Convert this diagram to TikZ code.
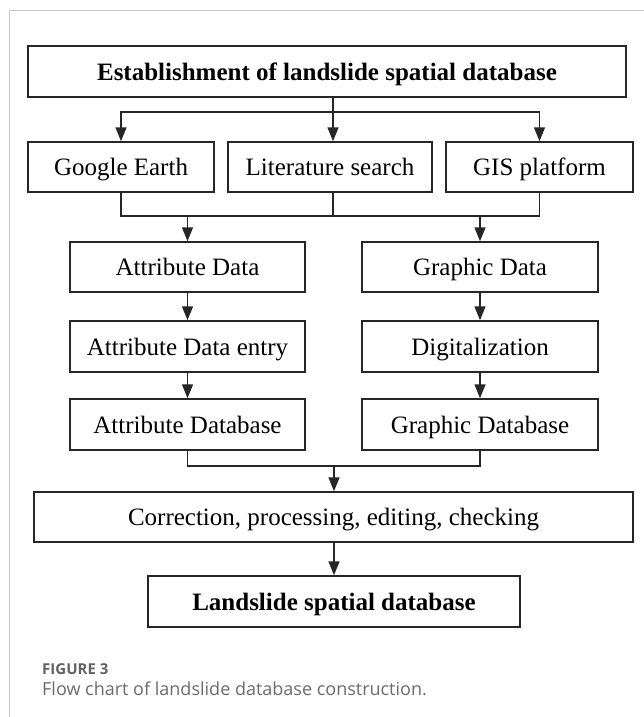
\documentclass[tikz,border=0pt]{standalone}
\usepackage{fontspec}
\setmainfont{Liberation Serif}
\newfontfamily\capfont{Open Sans}
\usepackage{tikz}
\usetikzlibrary{arrows.meta}

\begin{document}
\begin{tikzpicture}[x=1pt,y=-1pt,
	box/.style={draw=black!85,line width=1.5pt,inner sep=0pt,minimum height=50pt,
		text height=19pt,text depth=2pt,font=\fontsize{25}{30}\selectfont},
	line/.style={draw=black!85,line width=1.5pt},
	arr/.style={line,-{Triangle[width=11pt,length=14pt]}}]
	\useasboundingbox (0,0) rectangle (644,717);
	\draw[black!22,line width=1pt] (9,717) -- (9,11) -- (644,11);
	% boxes
	\node[box,minimum width=598pt,minimum height=51pt,font=\fontsize{25}{30}\selectfont\bfseries] (top) at (327,71.5) {Establishment of landslide spatial database};
	\node[box,minimum width=186pt] (ge) at (121,167) {Google Earth};
	\node[box,minimum width=204pt] (lit) at (330,167) {Literature search};
	\node[box,minimum width=187pt] (gis) at (539.5,167) {GIS platform};
	\node[box,minimum width=235pt] (attr) at (187.5,267) {Attribute Data};
	\node[box,minimum width=236pt] (graph) at (480,267) {Graphic Data};
	\node[box,minimum width=235pt,minimum height=51pt] (entry) at (187.5,346.5) {Attribute Data entry};
	\node[box,minimum width=236pt,minimum height=51pt] (digi) at (480,346.5) {Digitalization};
	\node[box,minimum width=235pt,minimum height=51pt] (adb) at (187.5,424.5) {Attribute Database};
	\node[box,minimum width=236pt,minimum height=51pt] (gdb) at (480,424.5) {Graphic Database};
	\node[box,minimum width=599pt] (corr) at (333.5,517) {Correction, processing, editing, checking};
	\node[box,minimum width=372pt,minimum height=51pt,font=\fontsize{25}{30}\selectfont\bfseries] (lsd) at (334,601.5) {Landslide spatial database};
	% connectors
	\coordinate (split) at (333,112);
	\coordinate (mergeA) at (333,216);
	\coordinate (mergeB) at (334,466);
	\draw[line] (top.south -| split) -- (split);
	\draw[arr] (split) -| (ge.north);
	\draw[arr] (split) -| (gis.north);
	\draw[arr] (split) -- (split |- lit.north);
	\draw[line] (ge.south) |- (gis.south |- mergeA) -- (gis.south);
	\draw[line] (lit.south -| mergeA) -- (mergeA);
	\draw[arr] (attr.north |- mergeA) -- (attr.north);
	\draw[arr] (graph.north |- mergeA) -- (graph.north);
	\draw[arr] (attr) -- (entry);
	\draw[arr] (entry) -- (adb);
	\draw[arr] (graph) -- (digi);
	\draw[arr] (digi) -- (gdb);
	\draw[line] (adb.south) |- (gdb.south |- mergeB) -- (gdb.south);
	\draw[arr] (mergeB) -- (mergeB |- corr.north);
	\draw[arr] (corr.south -| lsd) -- (lsd.north);
	% caption
	\node[anchor=base west,inner sep=0pt,text=black!62,font=\capfont\bfseries\fontsize{15}{18}\selectfont] (fig) at (42,674) {FIGURE 3};
	\node[anchor=base west,inner sep=0pt,text=black!58,font=\capfont\fontsize{18}{22}\selectfont] (cap) at (42,695) {Flow chart of landslide database construction.};
\end{tikzpicture}
\end{document}
